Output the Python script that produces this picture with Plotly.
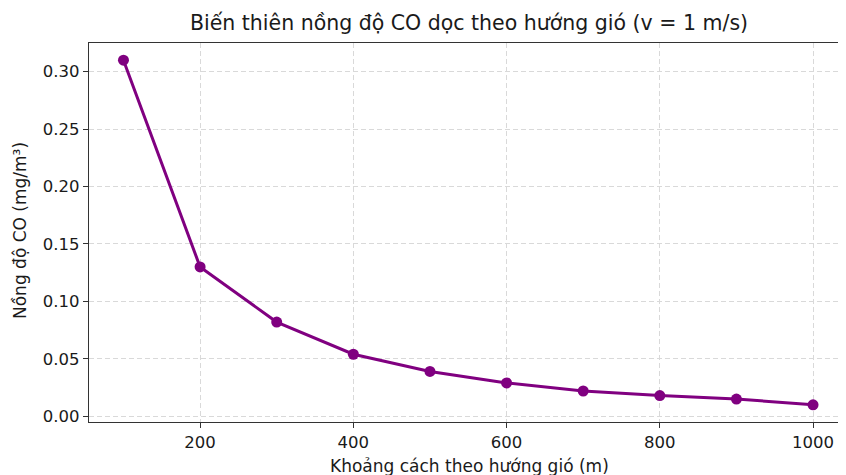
import plotly.graph_objects as go

distance_m = [100, 200, 300, 400, 500, 600, 700, 800, 900, 1000]
co_conc = [0.310, 0.130, 0.082, 0.054, 0.039, 0.029, 0.022, 0.018, 0.015, 0.010]
x_ticks = [200, 400, 600, 800, 1000]
y_ticks = [0.00, 0.05, 0.10, 0.15, 0.20, 0.25, 0.30]

title_text = "Biến thiên nồng độ CO dọc theo hướng gió (v = 1 m/s)"
x_title = "Khoảng cách theo hướng gió (m)"
y_title = "Nồng độ CO (mg/m³)"

FONT = "DejaVu Sans"
TXT = "#1a1a1a"

# page has an 8px body margin; figure is sized to end at the window edge
W, H = 838, 467
OFF = 8
PL, PT, PB = 89 - OFF, 43 - OFF, 422 - OFF  # plot-area edges in figure coords
PW = W - PL
PH = PB - PT

fig = go.Figure()
fig.add_trace(go.Scatter(
    x=distance_m, y=co_conc, mode="lines+markers",
    line=dict(color="#800080", width=3),
    marker=dict(color="#800080", size=11),
    showlegend=False,
))

fig.update_layout(
    width=W, height=H,
    margin=dict(l=PL, r=0, t=PT, b=H - PB, pad=0),
    paper_bgcolor="white", plot_bgcolor="white",
    font=dict(family=FONT, size=16, color=TXT),
    title=dict(text=title_text, x=(469 - OFF) / W, xanchor="center", xref="container",
               y=1 - (23 - OFF) / H, yanchor="middle", yref="container",
               font=dict(family=FONT, size=20.5, color=TXT)),
)
fig.update_xaxes(
    range=[55, 1043], tickvals=x_ticks, ticktext=[str(v) for v in x_ticks],
    showline=True, linecolor="#333333", linewidth=1.3, mirror=True,
    ticks="outside", ticklen=5, tickcolor="#333333", tickwidth=1.3,
    tickfont=dict(family=FONT, size=16.5, color=TXT),
    showgrid=True, gridcolor="#d9d9d9", griddash="5px,3px", gridwidth=1,
    zeroline=False, automargin=False,
)
fig.update_yaxes(
    range=[-0.005, 0.325], tickvals=y_ticks, ticktext=[f"{v:.2f}" for v in y_ticks],
    showline=True, linecolor="#333333", linewidth=1.3,
    ticks="outside", ticklen=5, tickcolor="#333333", tickwidth=1.3,
    tickfont=dict(family=FONT, size=16.5, color=TXT),
    showgrid=True, gridcolor="#d9d9d9", griddash="5px,3px", gridwidth=1,
    zeroline=False, automargin=False,
)

fig.add_annotation(text=x_title, xref="paper", yref="paper",
                   x=(469 - 89) / PW, y=-(466 - 422) / PH,
                   xanchor="center", yanchor="middle", showarrow=False,
                   font=dict(family=FONT, size=17, color=TXT))
fig.add_annotation(text=y_title, xref="paper", yref="paper",
                   x=-(89 - 20) / PW, y=1 - (231 - 43) / PH, textangle=-90,
                   xanchor="center", yanchor="middle", showarrow=False,
                   font=dict(family=FONT, size=17, color=TXT))

fig.write_html("out.html")
